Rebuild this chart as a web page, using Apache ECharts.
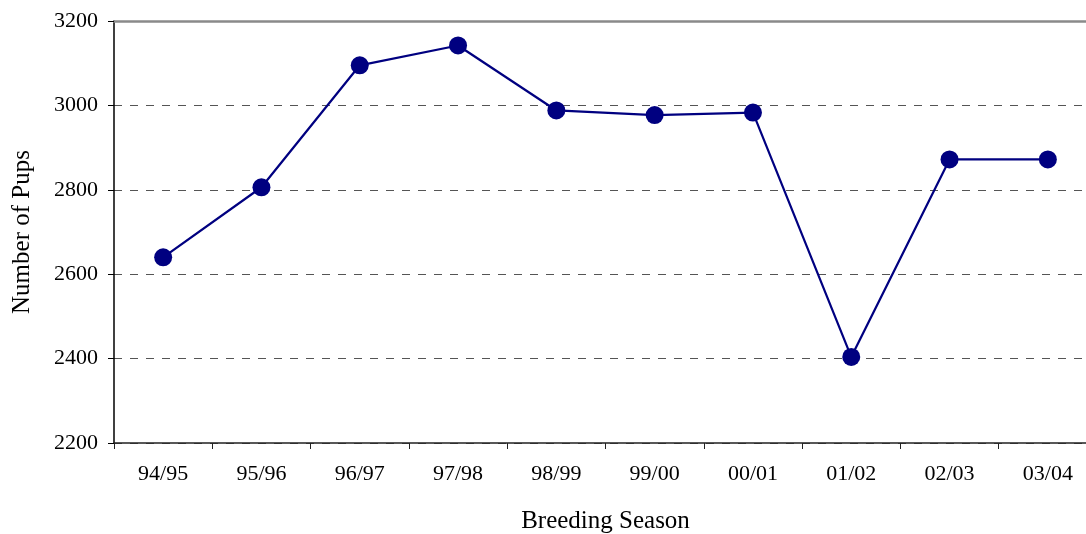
<!DOCTYPE html>
<html>
<head>
<meta charset="utf-8">
<script src="https://cdn.jsdelivr.net/npm/echarts@6/dist/echarts.min.js"></script>
<style>html,body{margin:0;padding:0;background:#fff;}#c{width:1086px;height:534px;}</style>
</head>
<body>
<div id="c"></div>
<script>
const categories = ['94/95','95/96','96/97','97/98','98/99','99/00','00/01','01/02','02/03','03/04'];
const pups = [2640, 2806, 3095, 3142, 2988, 2977, 2983, 2404, 2872, 2872];
const yTicks = { min: 2200, max: 3200, interval: 200 };

const font = 'Liberation Serif';
const chart = echarts.init(document.getElementById('c'), null, { renderer: 'canvas' });
chart.setOption({
  animation: false,
  backgroundColor: '#fff',
  grid: { left: 114, width: 983, top: 21, height: 422, containLabel: false, outerBoundsMode: 'none' },
  xAxis: [{
    type: 'category',
    data: categories,
    boundaryGap: true,
    position: 'bottom',
    name: 'Breeding Season',
    nameLocation: 'middle',
    nameGap: 78,
    nameTextStyle: { fontFamily: font, fontSize: 25, color: '#000', verticalAlign: 'middle' },
    axisLine: { lineStyle: { color: '#222', width: 1.5 } },
    axisTick: { show: true, alignWithLabel: false, length: 6, lineStyle: { color: '#222', width: 1 } },
    axisLabel: { fontFamily: font, fontSize: 22, color: '#000', margin: 20 },
    splitLine: { show: false }
  }, {
    type: 'category',
    data: categories,
    position: 'top',
    axisLine: { lineStyle: { color: '#8a8a8a', width: 2.5 } },
    axisTick: { show: false },
    axisLabel: { show: false },
    splitLine: { show: false }
  }],
  yAxis: {
    type: 'value',
    min: yTicks.min,
    max: yTicks.max,
    interval: yTicks.interval,
    name: 'Number of Pups',
    nameLocation: 'middle',
    nameGap: 92,
    nameRotate: 90,
    nameTextStyle: { fontFamily: font, fontSize: 25, color: '#000', verticalAlign: 'middle' },
    axisLine: { show: true, lineStyle: { color: '#000', width: 1.5 } },
    axisTick: { show: true, length: 6, lineStyle: { color: '#000', width: 1 } },
    axisLabel: { fontFamily: font, fontSize: 22, color: '#000', margin: 16, formatter: v => String(v) },
    splitLine: { show: true, lineStyle: { color: '#555', width: 1, type: [8, 8] } }
  },
  series: [{
    type: 'line',
    data: pups,
    xAxisIndex: 0,
    symbol: 'circle',
    symbolSize: 18,
    itemStyle: { color: '#000080' },
    lineStyle: { color: '#000080', width: 2.2 },
    z: 3
  }]
});
</script>
</body>
</html>
